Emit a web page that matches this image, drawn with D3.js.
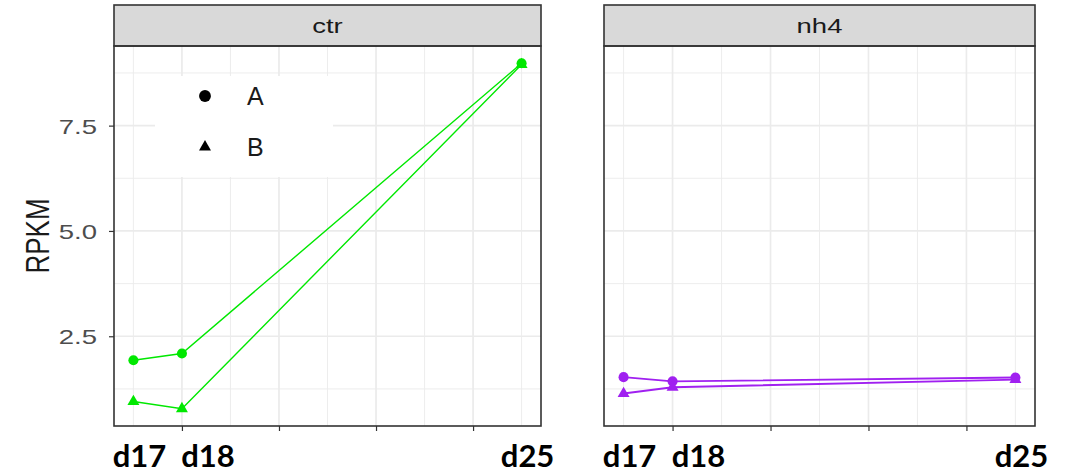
<!DOCTYPE html>
<html lang="en">
<head>
<meta charset="UTF-8">
<title>RPKM by day</title>
<script src="https://d3js.org/d3.v7.min.js"></script>
<style>
body { margin: 0; background: #fff; }
svg { display: block; background: #fff; }
.gg-text { font-family: "Liberation Sans", Arial, sans-serif; }
.day-label { font-family: Lato, "Open Sans", sans-serif; font-weight: bold; font-size: 31px; fill: #000; }
</style>
</head>
<body>
<svg id="chart" width="1068" height="474"></svg>
<script>
// data
const panels = ["ctr", "nh4"];
const days = [17, 18, 25];
const dayLabels = ["d17", "d18", "d25"];
const groups = ["A", "B"];
const ctrA = [1.93, 2.09, 8.98];
const ctrB = [0.95, 0.78, 8.95];
const nh4A = [1.53, 1.43, 1.52];
const nh4B = [1.14, 1.29, 1.47];
const panelColors = ["#00e800", "#a020f0"];
const yTicks = [2.5, 5.0, 7.5];
const xBreaks = [18, 20, 22, 24];

const series = [[ctrA, ctrB], [nh4A, nh4B]];

// layout
const width = 1068;
const height = 474;
const stretch = 1.31;               // the picture is stretched sideways
const panelX = [[114, 541], [604, 1035]];
const stripTop = 5;
const panelTop = 46;
const panelBottom = 426;
const labelNudge = [6, 26, 6];      // hand placed day labels
const gridCol = "#ebebeb";
const lineCol = "#333333";

const svg = d3.select("#chart")
    .attr("width", width)
    .attr("height", height);

// ggplot style 5% expansion
const yExt = d3.extent(series.flat(2));
const yPad = (yExt[1] - yExt[0]) * 0.05;
const y = d3.scaleLinear()
    .domain([yExt[0] - yPad, yExt[1] + yPad])
    .range([panelBottom, panelTop]);

const xPad = (d3.max(days) - d3.min(days)) * 0.05;
const xDomain = [d3.min(days) - xPad, d3.max(days) + xPad];

const yMinor = d3.range(yTicks[0] - 1.25, y.domain()[1], 2.5).filter(v => v > y.domain()[0]);
const xMinor = d3.range(17, xDomain[1], 2);

const circle = d3.symbol(d3.symbolCircle, 80);
const triangle = d3.symbol(d3.symbolTriangle, 62);
const shapes = [circle, triangle];

panels.forEach((name, i) => {
    const x = d3.scaleLinear().domain(xDomain).range(panelX[i]);
    const [x0, x1] = panelX[i];
    const g = svg.append("g").attr("class", "panel");

    // grid: minor first, then major
    g.selectAll(".ymin").data(yMinor).enter().append("line")
        .attr("x1", x0).attr("x2", x1)
        .attr("y1", d => y(d)).attr("y2", d => y(d))
        .attr("stroke", gridCol).attr("stroke-width", 0.9);
    g.selectAll(".xmin").data(xMinor).enter().append("line")
        .attr("x1", d => x(d)).attr("x2", d => x(d))
        .attr("y1", panelTop).attr("y2", panelBottom)
        .attr("stroke", gridCol).attr("stroke-width", 0.9);
    g.selectAll(".ymaj").data(yTicks).enter().append("line")
        .attr("x1", x0).attr("x2", x1)
        .attr("y1", d => y(d)).attr("y2", d => y(d))
        .attr("stroke", gridCol).attr("stroke-width", 1.7);
    g.selectAll(".xmaj").data(xBreaks).enter().append("line")
        .attr("x1", d => x(d)).attr("x2", d => x(d))
        .attr("y1", panelTop).attr("y2", panelBottom)
        .attr("stroke", gridCol).attr("stroke-width", 1.7);

    // legend sits inside the first panel, on top of the grid
    if (i === 0) {
        const lg = g.append("g").attr("class", "legend");
        lg.append("rect")
            .attr("x", 155).attr("y", 76)
            .attr("width", 178).attr("height", 101)
            .attr("fill", "#fff");
        groups.forEach((grp, k) => {
            const ky = 96 + k * 51;
            lg.append("path")
                .attr("d", d3.symbol(k === 0 ? d3.symbolCircle : d3.symbolTriangle, k === 0 ? 110 : 62)())
                .attr("transform", `translate(205,${ky})`)
                .attr("fill", "#000");
            lg.append("text")
                .attr("class", "gg-text")
                .attr("x", 247).attr("y", ky + 9)
                .attr("font-size", 25)
                .attr("fill", "#1a1a1a")
                .text(grp);
        });
    }

    // lines and points
    const line = d3.line()
        .x((d, j) => x(days[j]))
        .y(d => y(d));

    series[i].forEach((vals, k) => {
        g.append("path")
            .datum(vals)
            .attr("d", line)
            .attr("fill", "none")
            .attr("stroke", panelColors[i])
            .attr("stroke-width", i === 0 ? 1.4 : 1.9);
    });
    series[i].forEach((vals, k) => {
        g.selectAll(".pt" + k).data(vals).enter().append("path")
            .attr("d", shapes[k]())
            .attr("transform", (d, j) => `translate(${x(days[j])},${y(d)})`)
            .attr("fill", panelColors[i]);
    });

    // x axis: ticks only, the day names are written under it
    const xAxis = g.append("g")
        .attr("transform", `translate(0,${panelBottom})`)
        .call(d3.axisBottom(x).tickValues(xBreaks).tickSize(5).tickFormat(""));
    xAxis.select(".domain").remove();
    xAxis.selectAll(".tick line").attr("stroke", lineCol).attr("stroke-width", 1.2);

    g.selectAll(".day-label").data(dayLabels).enter().append("text")
        .attr("class", "day-label")
        .attr("x", (d, j) => x(days[j]) + labelNudge[j])
        .attr("y", 467)
        .attr("text-anchor", "middle")
        .text(d => d);

    // y axis only on the first panel
    if (i === 0) {
        const yAxis = g.append("g")
            .attr("transform", `translate(${x0},0)`)
            .call(d3.axisLeft(y).tickValues(yTicks).tickSize(5).tickFormat(d3.format(".1f")));
        yAxis.select(".domain").remove();
        yAxis.selectAll(".tick line").attr("stroke", lineCol).attr("stroke-width", 1.2);
        yAxis.selectAll(".tick text")
            .attr("class", "gg-text")
            .attr("x", -17 / stretch)
            .attr("dy", "0.36em")
            .attr("transform", `scale(${stretch},1)`)
            .attr("font-size", 21)
            .attr("fill", "#4d4d4d");
    }

    // strip
    g.append("rect")
        .attr("x", x0).attr("y", stripTop)
        .attr("width", x1 - x0).attr("height", panelTop - stripTop)
        .attr("fill", "#d9d9d9")
        .attr("stroke", lineCol).attr("stroke-width", 1.6);
    g.append("text")
        .attr("class", "gg-text")
        .attr("transform", `translate(${(x0 + x1) / 2},${(stripTop + panelTop) / 2}) scale(${stretch},1)`)
        .attr("dy", "0.36em")
        .attr("text-anchor", "middle")
        .attr("font-size", 21)
        .attr("fill", "#1a1a1a")
        .text(name);

    // panel border
    g.append("rect")
        .attr("x", x0).attr("y", panelTop)
        .attr("width", x1 - x0).attr("height", panelBottom - panelTop)
        .attr("fill", "none")
        .attr("stroke", lineCol).attr("stroke-width", 1.6);
});

// y title
svg.append("text")
    .attr("class", "gg-text")
    .attr("transform", `translate(37,236) scale(${stretch},1) rotate(-90)`)
    .attr("dy", "0.36em")
    .attr("text-anchor", "middle")
    .attr("font-size", 26)
    .attr("fill", "#1a1a1a")
    .text("RPKM");
</script>
</body>
</html>
